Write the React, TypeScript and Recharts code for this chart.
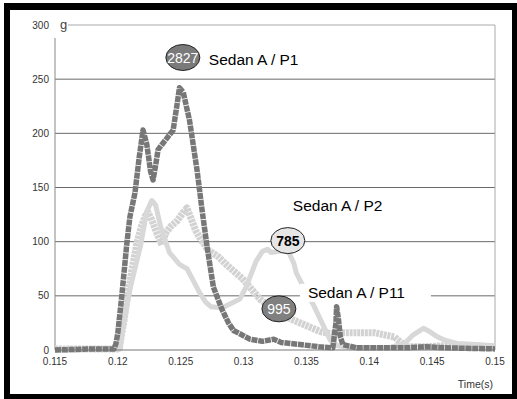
import { LineChart, Line, XAxis, YAxis, CartesianGrid, ReferenceLine, ReferenceDot } from 'recharts';

const timeTicks = [0.115, 0.12, 0.125, 0.13, 0.135, 0.14, 0.145, 0.15];
const gTicks = [0, 50, 100, 150, 200, 250, 300];

// Sedan A / P1 (dark)
const p1Time = [
  0.115, 0.118, 0.1197, 0.11985, 0.12, 0.12033, 0.12072, 0.12096, 0.12136, 0.1217, 0.122, 0.1223,
  0.1226, 0.1228, 0.123, 0.1232, 0.1238, 0.1244, 0.1247, 0.1249, 0.1252, 0.1257, 0.1263, 0.1267,
  0.1271, 0.1276, 0.1283, 0.1288, 0.1292, 0.1297, 0.1305, 0.1315, 0.1324, 0.133, 0.1345, 0.136,
  0.1371, 0.13735, 0.1374, 0.13755, 0.1377, 0.1379, 0.139, 0.141, 0.143, 0.1445, 0.146, 0.15,
];
const p1G = [
  0, 1, 1, 6, 16, 52, 99, 123, 145, 178, 203, 190,
  165, 157, 170, 185, 194, 203, 226, 242, 238, 212, 166, 129,
  95, 58, 37, 25, 18, 15, 10, 8, 10, 7, 5, 3,
  2, 25, 40, 28, 12, 5, 2, 2, 2, 3, 2, 1,
];

// Sedan A / P2 (light, solid)
const p2Time = [
  0.115, 0.1202, 0.1204, 0.121, 0.1218, 0.1223, 0.1227, 0.1230, 0.1234, 0.1241, 0.1249, 0.1255,
  0.126, 0.1265, 0.127, 0.1274, 0.1283, 0.129, 0.1297, 0.1302, 0.1306, 0.131, 0.1315, 0.1319,
  0.1322, 0.1327, 0.1332, 0.1336, 0.134, 0.1342, 0.1346, 0.135, 0.1355, 0.1362, 0.1369, 0.1375,
  0.1385, 0.14, 0.1415, 0.1428, 0.1435, 0.1443, 0.1448, 0.1453, 0.146, 0.147, 0.1485, 0.15,
];
const p2G = [
  0, 1, 22, 58, 96, 128, 138, 134, 114, 90, 79, 75,
  64, 53, 44, 40, 39, 43, 47, 58, 70, 82, 91, 93,
  90, 91, 92, 90, 80, 71, 62, 53, 43, 26, 9, 4,
  2, 2, 2, 6, 14, 20, 17, 13, 9, 6, 5, 4,
];

// Sedan A / P11 (light, textured)
const p11Time = [
  0.115, 0.12, 0.1202, 0.1205, 0.12072, 0.12112, 0.12152, 0.1219, 0.1222, 0.1224, 0.1227, 0.1231,
  0.1235, 0.1238, 0.1242, 0.1247, 0.1252, 0.1255, 0.1258, 0.1262, 0.1266, 0.1272, 0.128, 0.1287,
  0.1293, 0.1299, 0.1305, 0.1313, 0.1321, 0.1329, 0.1337, 0.1345, 0.1353, 0.1361, 0.137, 0.1378,
  0.139, 0.1404, 0.1412, 0.142, 0.1425, 0.143, 0.1445, 0.146, 0.15,
];
const p11G = [
  1, 1, 8, 28, 46, 74, 99, 115, 124, 127, 120, 108,
  97, 108, 114, 119, 127, 131, 122, 110, 102, 92, 86, 78,
  72, 66, 58, 47, 40, 34, 29, 25, 21, 17, 15, 16,
  16, 16, 14, 12, 7, 3, 3, 4, 3,
];

const seriesNames = ['Sedan A / P1', 'Sedan A / P2', 'Sedan A / P11'];
const badgeValues = ['2827', '785', '995'];
const badgeTime = [0.12517, 0.13352, 0.13281];
const badgeG = [270, 101, 38];

const zip = (t: number[], g: number[]) => t.map((x, i) => ({ t: x, g: g[i] }));
const p1Data = zip(p1Time, p1G);
const p2Data = zip(p2Time, p2G);
const p11Data = zip(p11Time, p11G);

const tickFont = { fill: '#333', fontSize: 10, fontFamily: 'Liberation Sans, Arial, sans-serif' };
const nameFont = 'Liberation Sans, Arial, sans-serif';
const numFont = 'Liberation Sans Narrow, Liberation Sans, Arial, sans-serif';

function Badge(props: any) {
  const { cx, cy, value, name, fill, textFill, bold, nameDx, nameDy, box } = props;
  return (
    <g>
      {box && <rect x={cx + 21} y={cy - 25} width={131} height={18} fill="#fff" />}
      <ellipse cx={cx} cy={cy} rx={17} ry={13} fill={fill} stroke="#222" strokeWidth={1} />
      <text
        x={cx}
        y={cy + 5}
        textAnchor="middle"
        fill={textFill}
        fontSize={14}
        fontWeight={bold ? 'bold' : 'normal'}
        fontFamily={numFont}
      >
        {value}
      </text>
      <text x={cx + nameDx} y={cy + nameDy + 5} fill="#000" fontSize={15.5} fontFamily={nameFont}>
        {name}
      </text>
    </g>
  );
}

function UnitLabel(props: any) {
  return (
    <text x={props.cx + 5} y={props.cy + 4} fill="#444" fontSize={13} fontFamily={nameFont}>
      g
    </text>
  );
}

export default function App() {
  return (
    <div style={{ position: 'absolute', left: 0, top: 0, width: 517, height: 399, background: '#fff' }}>
      <LineChart width={517} height={399} margin={{ top: 25, right: 22, bottom: 9, left: 15 }}>
        <CartesianGrid
          vertical={false}
          horizontalValues={[50, 100, 150, 200, 250]}
          stroke="#6a6a6a"
          strokeWidth={1}
        />
        <XAxis
          type="number"
          dataKey="t"
          domain={[0.115, 0.15]}
          ticks={timeTicks}
          tickFormatter={(v) => String(v)}
          tick={tickFont}
          tickLine={false}
          axisLine={{ stroke: '#777' }}
          height={40}
          allowDuplicatedCategory={false}
          label={{
            value: 'Time(s)',
            position: 'insideBottomRight',
            offset: 2,
            fill: '#333',
            fontSize: 10.5,
            fontFamily: 'Liberation Sans, Arial, sans-serif',
          }}
        />
        <YAxis
          type="number"
          domain={[0, 300]}
          ticks={gTicks}
          tick={tickFont}
          tickLine={false}
          axisLine={false}
          tickSize={4}
          width={40}
        />
        <ReferenceLine
          segment={[
            { x: 0.11603, y: 300 },
            { x: 0.15, y: 300 },
          ]}
          stroke="#aaa"
        />
        <ReferenceLine
          segment={[
            { x: 0.115, y: 0 },
            { x: 0.115, y: 288 },
          ]}
          stroke="#888"
        />
        <ReferenceLine x={0.15} stroke="#aaa" />
        <Line
          data={p11Data}
          dataKey="g"
          type="linear"
          stroke="#d2d2d2"
          strokeWidth={7}
          strokeDasharray="3 0.8"
          strokeLinejoin="round"
          dot={false}
          isAnimationActive={false}
        />
        <Line
          data={p2Data}
          dataKey="g"
          type="linear"
          stroke="#d8d8d8"
          strokeWidth={5}
          strokeLinejoin="round"
          dot={false}
          isAnimationActive={false}
        />
        <Line
          data={p1Data}
          dataKey="g"
          type="linear"
          stroke="#777"
          strokeWidth={5.5}
          strokeDasharray="6 0.8"
          strokeLinejoin="round"
          dot={false}
          isAnimationActive={false}
        />
        <ReferenceDot x={0.115} y={300} shape={(p: any) => <UnitLabel {...p} />} />
        <ReferenceDot
          x={badgeTime[0]}
          y={badgeG[0]}
          shape={(p: any) => (
            <Badge cx={p.cx} cy={p.cy} value={badgeValues[0]} name={seriesNames[0]} fill="#7a7a7a"
              textFill="#fff" nameDx={26} nameDy={2} />
          )}
        />
        <ReferenceDot
          x={badgeTime[1]}
          y={badgeG[1]}
          shape={(p: any) => (
            <Badge cx={p.cx} cy={p.cy} value={badgeValues[1]} name={seriesNames[1]} fill="#e6e6e6"
              textFill="#000" bold nameDx={5} nameDy={-35} />
          )}
        />
        <ReferenceDot
          x={badgeTime[2]}
          y={badgeG[2]}
          shape={(p: any) => (
            <Badge cx={p.cx} cy={p.cy} value={badgeValues[2]} name={seriesNames[2]} fill="#808080"
              textFill="#fff" nameDx={29} nameDy={-16} box />
          )}
        />
      </LineChart>
      <div
        style={{
          position: 'absolute',
          left: 4,
          top: 3,
          width: 513,
          height: 396,
          boxSizing: 'border-box',
          borderStyle: 'solid',
          borderColor: '#000',
          borderWidth: '7px 5px 5px 6px',
          pointerEvents: 'none',
        }}
      />
    </div>
  );
}
